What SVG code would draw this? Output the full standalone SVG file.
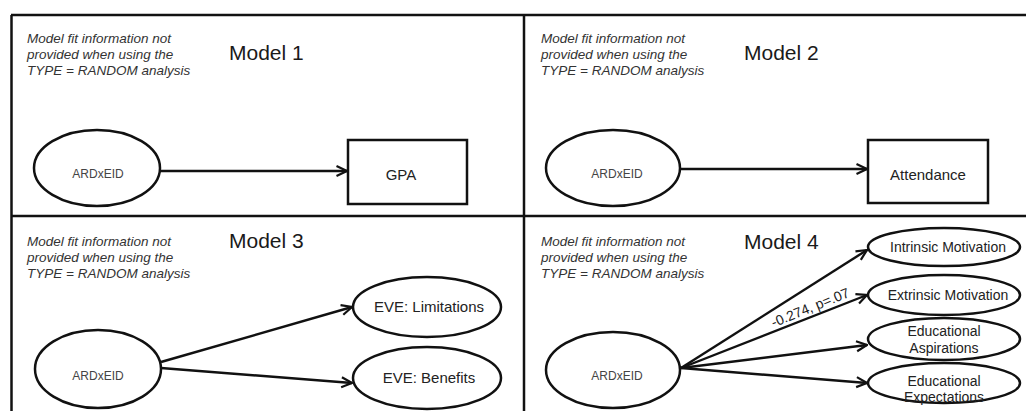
<svg xmlns="http://www.w3.org/2000/svg" width="1026" height="411" viewBox="0 0 1026 411">
  <style>
    .frame { stroke: #111; stroke-width: 2.5; fill: none; }
    .node { fill: #fff; stroke: #111; stroke-width: 2.5; }
    .edge { stroke: #111; stroke-width: 2.4; fill: none; marker-end: url(#arrow); }
    .note { font-family: "Liberation Sans", Arial, sans-serif; font-style: italic; font-size: 13.5px; fill: #333; }
    .title { font-family: "Liberation Sans", Arial, sans-serif; font-size: 21px; fill: #1a1a1a; }
    .lbl { font-family: "Liberation Sans", Arial, sans-serif; font-size: 15px; fill: #222; text-anchor: middle; }
    .small { font-size: 12px; fill: #444; }
    .mid { font-size: 14px; }
    .coef { font-family: "Liberation Sans", Arial, sans-serif; font-size: 14px; fill: #222; text-anchor: middle; }
  </style>
  <defs>
    <marker id="arrow" viewBox="0 0 13 13" refX="12" refY="6.5" markerWidth="13" markerHeight="13" markerUnits="userSpaceOnUse" orient="auto">
      <path d="M1.5,1.5 L12,6.5 L1.5,11.5" fill="none" stroke="#111" stroke-width="2.2"/>
    </marker>
  </defs>
  <rect width="1026" height="411" fill="#fff"/>

  <!-- panel grid -->
  <g id="frame" class="frame">
    <line x1="11" y1="15" x2="1026" y2="15"/>
    <line x1="11.5" y1="15" x2="11.5" y2="411"/>
    <line x1="524" y1="15" x2="524" y2="411"/>
    <line x1="11" y1="216" x2="1026" y2="216"/>
  </g>

  <!-- panel captions -->
  <g id="captions">
    <text class="note" x="27" y="43">Model fit information not</text>
    <text class="note" x="27" y="59">provided when using the</text>
    <text class="note" x="27" y="75">TYPE = RANDOM analysis</text>
    <text class="title" x="229" y="60">Model 1</text>

    <text class="note" x="541" y="43">Model fit information not</text>
    <text class="note" x="541" y="59">provided when using the</text>
    <text class="note" x="541" y="75">TYPE = RANDOM analysis</text>
    <text class="title" x="744" y="60">Model 2</text>

    <text class="note" x="27" y="246">Model fit information not</text>
    <text class="note" x="27" y="262">provided when using the</text>
    <text class="note" x="27" y="278">TYPE = RANDOM analysis</text>
    <text class="title" x="229" y="248">Model 3</text>

    <text class="note" x="541" y="246">Model fit information not</text>
    <text class="note" x="541" y="262">provided when using the</text>
    <text class="note" x="541" y="278">TYPE = RANDOM analysis</text>
    <text class="title" x="744" y="249">Model 4</text>
  </g>

  <!-- connectors -->
  <g id="connectors">
    <line class="edge" x1="160" y1="171" x2="347" y2="171"/>
    <line class="edge" x1="680" y1="169" x2="867" y2="169"/>
    <line class="edge" x1="161" y1="362" x2="352" y2="307"/>
    <line class="edge" x1="161" y1="368" x2="352" y2="383"/>
    <line class="edge" x1="681" y1="368" x2="867" y2="250"/>
    <line class="edge" x1="681" y1="368" x2="867" y2="295"/>
    <line class="edge" x1="681" y1="368" x2="867" y2="345"/>
    <line class="edge" x1="681" y1="368" x2="867" y2="383"/>
    <text class="coef" x="812" y="312" transform="rotate(-22 812 312)">-0.274, p=.07</text>
  </g>

  <!-- Model 1 -->
  <g id="m1-ardxeid">
    <ellipse class="node" cx="97" cy="168" rx="63" ry="38"/>
    <text class="lbl small" x="98" y="178">ARDxEID</text>
  </g>
  <g id="m1-gpa">
    <rect class="node" x="348" y="140" width="119" height="64"/>
    <text class="lbl" x="401" y="180">GPA</text>
  </g>

  <!-- Model 2 -->
  <g id="m2-ardxeid">
    <ellipse class="node" cx="613" cy="168" rx="67" ry="38"/>
    <text class="lbl small" x="617" y="178">ARDxEID</text>
  </g>
  <g id="m2-attendance">
    <rect class="node" x="868" y="140" width="120" height="63"/>
    <text class="lbl" x="928" y="180">Attendance</text>
  </g>

  <!-- Model 3 -->
  <g id="m3-ardxeid">
    <ellipse class="node" cx="98" cy="369" rx="63" ry="39"/>
    <text class="lbl small" x="98" y="380">ARDxEID</text>
  </g>
  <g id="m3-limitations">
    <ellipse class="node" cx="427" cy="307" rx="74" ry="30"/>
    <text class="lbl" x="429" y="312">EVE: Limitations</text>
  </g>
  <g id="m3-benefits">
    <ellipse class="node" cx="427" cy="378" rx="74" ry="31"/>
    <text class="lbl" x="429" y="383">EVE: Benefits</text>
  </g>

  <!-- Model 4 -->
  <g id="m4-ardxeid">
    <ellipse class="node" cx="613" cy="370" rx="67" ry="38"/>
    <text class="lbl small" x="617" y="380">ARDxEID</text>
  </g>
  <g id="m4-intrinsic">
    <ellipse class="node" cx="944" cy="247" rx="76" ry="19"/>
    <text class="lbl mid" x="948" y="252">Intrinsic Motivation</text>
  </g>
  <g id="m4-extrinsic">
    <ellipse class="node" cx="944" cy="295" rx="76" ry="20"/>
    <text class="lbl mid" x="948" y="300">Extrinsic Motivation</text>
  </g>
  <g id="m4-aspirations">
    <ellipse class="node" cx="944" cy="339" rx="76" ry="21"/>
    <text class="lbl mid" x="944" y="336">Educational</text>
    <text class="lbl mid" x="944" y="353">Aspirations</text>
  </g>
  <g id="m4-expectations">
    <ellipse class="node" cx="944" cy="383" rx="76" ry="20"/>
    <text class="lbl mid" x="944" y="386">Educational</text>
    <text class="lbl mid" x="944" y="402">Expectations</text>
  </g>
</svg>
